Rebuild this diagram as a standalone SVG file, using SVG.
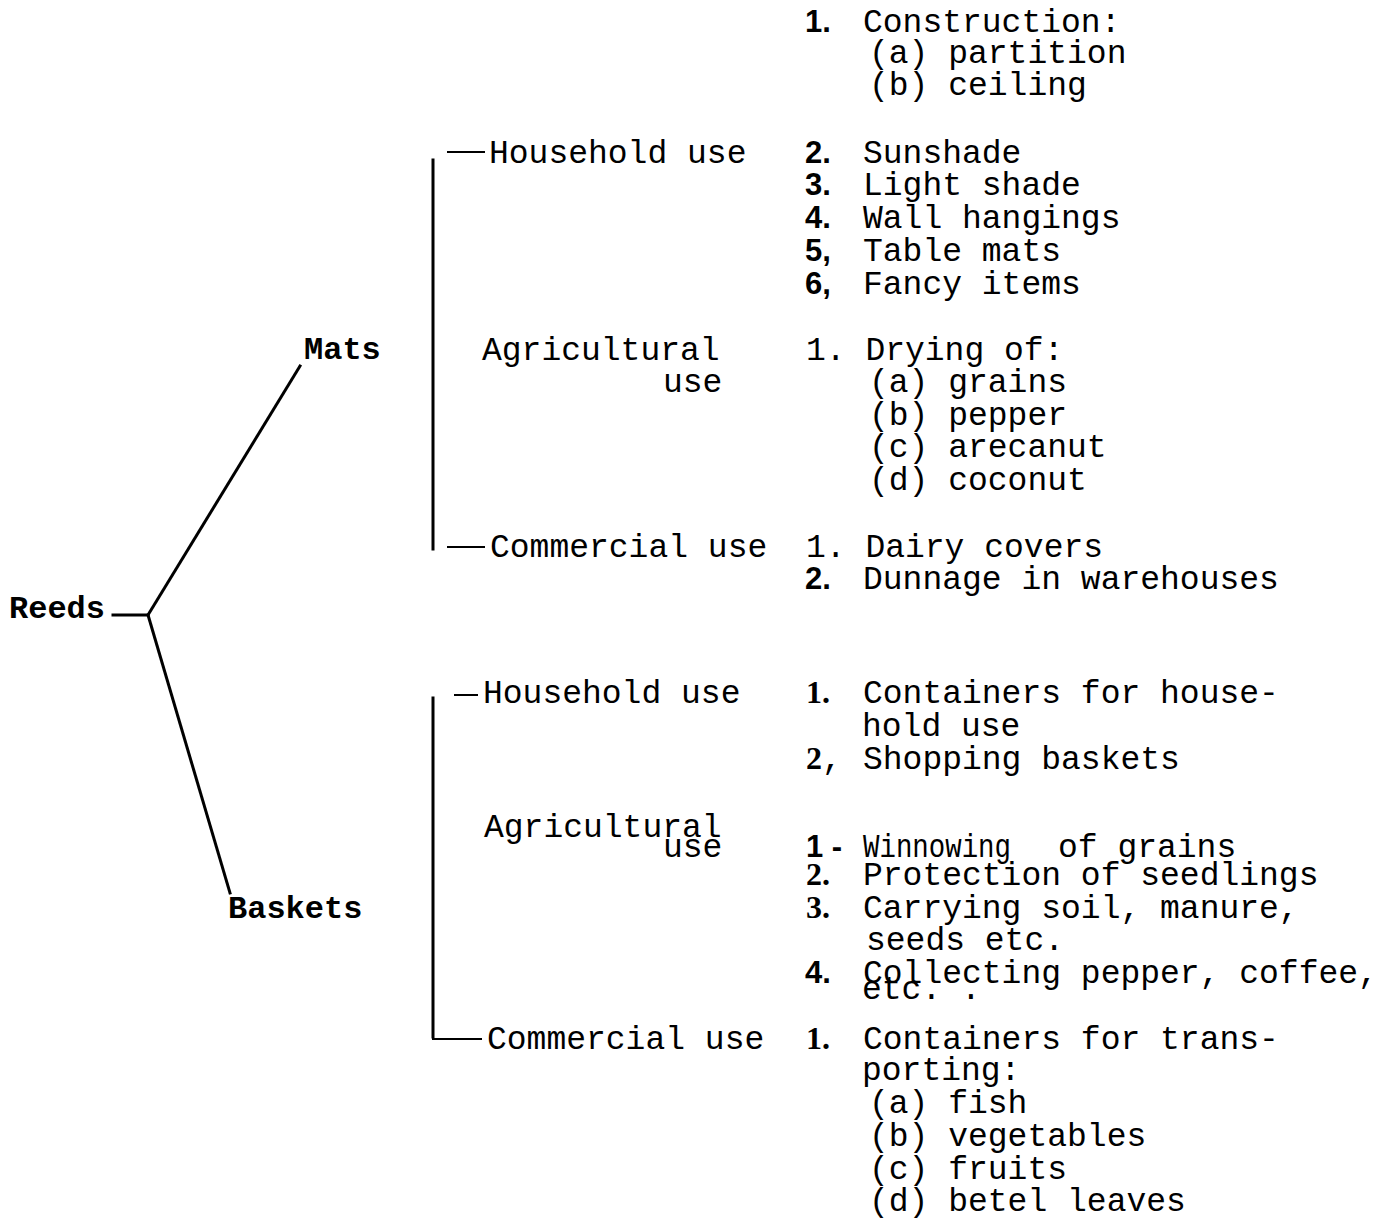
<svg xmlns="http://www.w3.org/2000/svg" width="1392" height="1219" viewBox="0 0 1392 1219">
<style>
.t{font-family:"Liberation Mono","DejaVu Sans Mono",monospace;font-size:33px;fill:#000}
.n{font-family:"Liberation Sans",Arial,sans-serif;font-weight:bold;font-size:31px;fill:#000}
.s{font-family:"Liberation Serif","Times New Roman",serif;font-weight:bold;font-size:32px;fill:#000}
.h{font-family:"Liberation Mono","DejaVu Sans Mono",monospace;font-weight:bold;font-size:32px;fill:#000}
.c{stroke:#000;fill:none;stroke-linecap:square}
.th{stroke-width:3}
.tn{stroke-width:2}
</style>
<rect width="1392" height="1219" fill="#fff"/>
<g id="connectors">
<line class="c th" x1="113" y1="615" x2="148" y2="615"/>
<line class="c th" x1="148" y1="615" x2="300" y2="366"/>
<line class="c th" x1="148" y1="615" x2="230" y2="893"/>
<line class="c th" x1="433" y1="160" x2="433" y2="549"/>
<line class="c tn" x1="448" y1="152" x2="484" y2="152"/>
<line class="c tn" x1="448" y1="547" x2="484" y2="547"/>
<line class="c th" x1="433" y1="698" x2="433" y2="1037"/>
<line class="c tn" x1="455" y1="695" x2="477" y2="695"/>
<polyline class="c tn" points="433,1037 433,1039 481,1039"/>
</g>
<g id="node-reeds"><text class="h" x="9" y="618">Reeds</text></g>
<g id="node-mats"><text class="h" x="304" y="359">Mats</text></g>
<g id="node-baskets"><text class="h" x="228" y="918">Baskets</text></g>
<g id="node-mats-household">
<text class="t" x="489" y="163">Household use</text>
<text class="n" x="805" y="32">1.</text><text class="t" x="863" y="32">Construction:</text>
<text class="t" x="869" y="63">(a) partition</text>
<text class="t" x="869" y="95">(b) ceiling</text>
<text class="n" x="805" y="163">2.</text><text class="t" x="863" y="163">Sunshade</text>
<text class="n" x="805" y="195">3.</text><text class="t" x="863" y="195">Light shade</text>
<text class="n" x="805" y="228">4.</text><text class="t" x="863" y="228">Wall hangings</text>
<text class="n" x="805" y="261">5,</text><text class="t" x="863" y="261">Table mats</text>
<text class="n" x="805" y="294">6,</text><text class="t" x="863" y="294">Fancy items</text>
</g>
<g id="node-mats-agricultural">
<text class="t" x="482" y="360">Agricultural</text>
<text class="t" x="663" y="392">use</text>
<text class="t" x="806" y="360">1. Drying of:</text>
<text class="t" x="869" y="392">(a) grains</text>
<text class="t" x="869" y="425">(b) pepper</text>
<text class="t" x="869" y="457">(c) arecanut</text>
<text class="t" x="869" y="490">(d) coconut</text>
</g>
<g id="node-mats-commercial">
<text class="t" x="490" y="557">Commercial use</text>
<text class="t" x="806" y="557">1. Dairy covers</text>
<text class="n" x="805" y="589">2.</text><text class="t" x="863" y="589">Dunnage in warehouses</text>
</g>
<g id="node-baskets-household">
<text class="t" x="483" y="703">Household use</text>
<text class="s" x="806" y="703">1.</text><text class="t" x="863" y="703">Containers for house-</text>
<text class="t" x="862" y="736">hold use</text>
<text class="s" x="806" y="769">2<tspan class="t" style="font-weight:normal">,</tspan></text><text class="t" x="863" y="769">Shopping baskets</text>
</g>
<g id="node-baskets-agricultural">
<text class="t" x="484" y="837">Agricultural</text>
<text class="t" x="663" y="857">use</text>
<text class="n" x="806" y="857">1 -</text><text class="t" x="863" y="857" textLength="148" lengthAdjust="spacingAndGlyphs">Winnowing</text><text class="t" x="1058" y="857">of grains</text>
<text class="s" x="806" y="885">2.</text><text class="t" x="863" y="885">Protection of seedlings</text>
<text class="s" x="806" y="918">3.</text><text class="t" x="863" y="918">Carrying soil, manure,</text>
<text class="t" x="866" y="950">seeds etc.</text>
<text class="n" x="805" y="983">4.</text><text class="t" x="863" y="983">Collecting pepper, coffee,</text>
<text class="t" x="862" y="999">etc.   .</text>
</g>
<g id="node-baskets-commercial">
<text class="t" x="487" y="1049">Commercial use</text>
<text class="s" x="806" y="1049">1.</text><text class="t" x="863" y="1049">Containers for trans-</text>
<text class="t" x="862" y="1080">porting:</text>
<text class="t" x="869" y="1113">(a) fish</text>
<text class="t" x="869" y="1146">(b) vegetables</text>
<text class="t" x="869" y="1179">(c) fruits</text>
<text class="t" x="869" y="1211">(d) betel leaves</text>
</g>
</svg>
